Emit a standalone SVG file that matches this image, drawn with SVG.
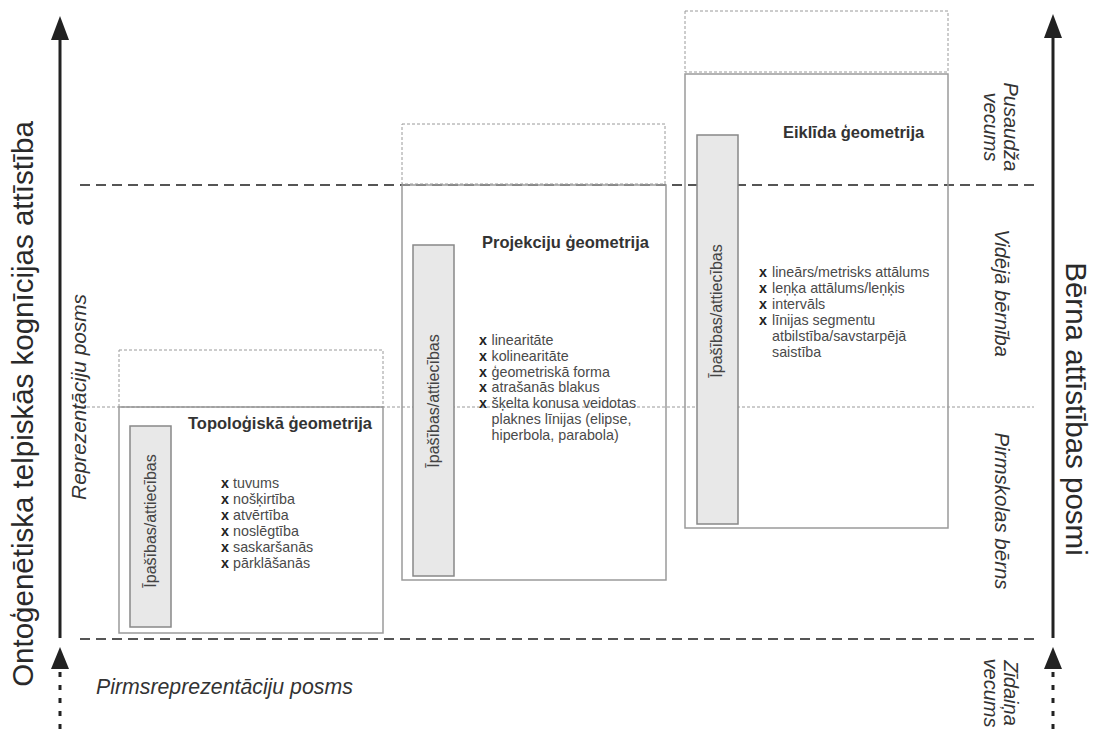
<svg xmlns="http://www.w3.org/2000/svg" width="1094" height="731" viewBox="0 0 1094 731">
<style>
.ax{stroke:#222;stroke-width:3;fill:none}
.axd{stroke:#222;stroke-width:3;stroke-dasharray:5 8;fill:none}
.head{fill:#222}
.dash{stroke:#555;stroke-width:2;stroke-dasharray:10 6;fill:none}
.dot{stroke:#9a9a9a;stroke-width:1;stroke-dasharray:3 2;fill:none}
.box{stroke:#9a9a9a;stroke-width:1.5;fill:none}
.inner{fill:#e8e8e8;stroke:#888;stroke-width:1.5}
text{font-family:"Liberation Sans",Arial,Helvetica,sans-serif}
.title{font-weight:bold;font-size:16.5px;fill:#333}
.li{font-size:14.3px;fill:#4a4a4a}
.b{font-weight:bold;fill:#222}
.rot{font-size:16px;fill:#444;text-anchor:middle}
.ital{font-style:italic;font-size:20px;fill:#333;text-anchor:middle}
.big{font-size:29.5px;fill:#2a2a2a;text-anchor:middle}
</style>
<rect width="1094" height="731" fill="#fff"/>
<g id="connectors">
<line class="dot" x1="82" y1="407" x2="1034" y2="407"/>
<line class="dash" x1="80" y1="185" x2="1040" y2="185"/>
<line class="dash" x1="80" y1="639" x2="1040" y2="639"/>
<line class="ax" x1="60" y1="38" x2="60" y2="638"/>
<polygon class="head" points="60,16 51,40 69,40"/>
<polygon class="head" points="60,647 51,669 69,669"/>
<line class="axd" x1="60" y1="672" x2="60" y2="731"/>
<line class="ax" x1="1053" y1="36" x2="1053" y2="638"/>
<polygon class="head" points="1053,14 1044,38 1062,38"/>
<polygon class="head" points="1053,647 1044,669 1062,669"/>
<line class="axd" x1="1053" y1="672" x2="1053" y2="731"/>
</g>
<g id="axis-labels">
<text class="big" transform="translate(33,404) rotate(-90)">Ontoģenētiska telpiskās kognīcijas attīstība</text>
<text class="big" transform="translate(1066,409) rotate(90)">Bērna attīstības posmi</text>
<text class="ital" transform="translate(86,397) rotate(-90)" style="font-size:20.8px">Reprezentāciju posms</text>
<text class="ital" x="96" y="694" style="text-anchor:start;font-size:21.3px">Pirmsreprezentāciju posms</text>
<text class="ital" transform="translate(1004,127) rotate(90)">Pusaudža</text>
<text class="ital" transform="translate(984,127) rotate(90)">vecums</text>
<text class="ital" transform="translate(995,293) rotate(90)">Vidējā bērnība</text>
<text class="ital" transform="translate(995,511) rotate(90)" style="font-size:20.5px">Pirmskolas bērns</text>
<text class="ital" transform="translate(1004,693) rotate(90)">Zīdaiņa</text>
<text class="ital" transform="translate(984,693) rotate(90)">vecums</text>
</g>
<g id="topologiska">
<rect class="dot" x="119" y="350" width="264" height="57"/>
<rect class="box" x="119" y="407" width="264" height="226"/>
<rect class="inner" x="130" y="426" width="41" height="201"/>
<text class="rot" transform="translate(156,521) rotate(-90)">Īpašības/attiecības</text>
<text class="title" x="188" y="429">Topoloģiskā ģeometrija</text>
<text class="li" x="221" y="488"><tspan class="b">x</tspan><tspan x="233">tuvums</tspan></text>
<text class="li" x="221" y="504"><tspan class="b">x</tspan><tspan x="233">nošķirtība</tspan></text>
<text class="li" x="221" y="520"><tspan class="b">x</tspan><tspan x="233">atvērtība</tspan></text>
<text class="li" x="221" y="536"><tspan class="b">x</tspan><tspan x="233">noslēgtība</tspan></text>
<text class="li" x="221" y="552"><tspan class="b">x</tspan><tspan x="233">saskaršanās</tspan></text>
<text class="li" x="221" y="568"><tspan class="b">x</tspan><tspan x="233">pārklāšanās</tspan></text>
</g>
<g id="projekciju">
<rect class="dot" x="402" y="124" width="263" height="60"/>
<rect class="box" x="402" y="185" width="264" height="395"/>
<rect class="inner" x="413" y="245" width="41" height="331"/>
<text class="rot" transform="translate(439,401) rotate(-90)">Īpašības/attiecības</text>
<text class="title" x="482" y="248">Projekciju ģeometrija</text>
<text class="li" x="479" y="345"><tspan class="b">x</tspan><tspan x="491.5">linearitāte</tspan></text>
<text class="li" x="479" y="361"><tspan class="b">x</tspan><tspan x="491.5">kolinearitāte</tspan></text>
<text class="li" x="479" y="377"><tspan class="b">x</tspan><tspan x="491.5">ģeometriskā forma</tspan></text>
<text class="li" x="479" y="392"><tspan class="b">x</tspan><tspan x="491.5">atrašanās blakus</tspan></text>
<text class="li" x="479" y="408"><tspan class="b">x</tspan><tspan x="491.5">šķelta konusa veidotas</tspan></text>
<text class="li" x="491.5" y="424">plaknes līnijas (elipse,</text>
<text class="li" x="491.5" y="440">hiperbola, parabola)</text>
</g>
<g id="eiklida">
<rect class="dot" x="685" y="11" width="263" height="61"/>
<rect class="box" x="685" y="74" width="263" height="454"/>
<rect class="inner" x="697" y="135" width="41" height="389"/>
<text class="rot" transform="translate(722,311) rotate(-90)">Īpašības/attiecības</text>
<text class="title" x="783" y="138">Eiklīda ģeometrija</text>
<text class="li" x="759" y="277"><tspan class="b">x</tspan><tspan x="772">lineārs/metrisks attālums</tspan></text>
<text class="li" x="759" y="293"><tspan class="b">x</tspan><tspan x="772">leņķa attālums/leņķis</tspan></text>
<text class="li" x="759" y="309"><tspan class="b">x</tspan><tspan x="772">intervāls</tspan></text>
<text class="li" x="759" y="325"><tspan class="b">x</tspan><tspan x="772">līnijas segmentu</tspan></text>
<text class="li" x="772" y="341">atbilstība/savstarpējā</text>
<text class="li" x="772" y="357">saistība</text>
</g>
</svg>
